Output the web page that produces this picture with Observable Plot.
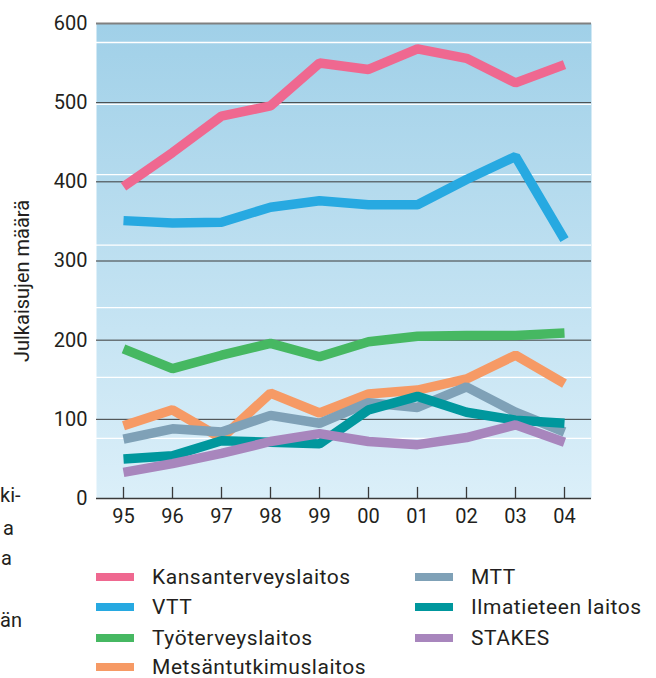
<!DOCTYPE html>
<html>
<head>
<meta charset="utf-8">
<script src="https://cdn.jsdelivr.net/npm/d3@7"></script>
<script src="https://cdn.jsdelivr.net/npm/@observablehq/plot@0.6"></script>
<style>
  html, body { margin: 0; padding: 0; background: #fff; }
  body { width: 656px; height: 678px; overflow: hidden; position: relative; font-family: Roboto, "Open Sans", sans-serif; color: #231f20; }
  #chart { position: absolute; left: 0; top: 0; }
  .ytitle { position: absolute; left: 22px; top: 281px; transform: translate(-50%, -50%) rotate(-90deg); font-size: 20px; white-space: nowrap; }
  .frag { position: absolute; font-size: 20px; line-height: 1; white-space: nowrap; }
  .leg { position: absolute; font-size: 21px; line-height: 1; white-space: nowrap; letter-spacing: 0.55px; }
  .leg .sw { position: absolute; width: 38px; height: 8px; left: 0; top: -4px; }
  .leg .lb { position: absolute; left: 56px; top: 0; transform: translateY(-50%); }
</style>
</head>
<body>
<div id="chart"></div>
<div class="ytitle">Julkaisujen määrä</div>
<div id="legend"></div>
<div id="frags"></div>
<script>
// ---- data ----
const years = ["95","96","97","98","99","00","01","02","03","04"];
const seriesNames = ["Kansanterveyslaitos","VTT","Työterveyslaitos","Metsäntutkimuslaitos","MTT","Ilmatieteen laitos","STAKES"];
const seriesColors = ["#ef6890","#27a9e1","#46b862","#f69a65","#7fa1b7","#00979d","#a886bd"];
const kansanterveyslaitos = [394,437,483,496,550,542,568,556,525,548];
const vtt = [351,348,349,368,376,371,371,403,432,327];
const tyoterveyslaitos = [189,164,181,196,179,198,205,206,206,209];
const metsantutkimuslaitos = [92,112,76,133,108,132,137,151,181,145];
const mtt = [75,88,84,105,95,121,115,141,109,84];
const ilmatieteenLaitos = [50,54,73,71,69,112,129,109,99,95];
const stakes = [33,44,57,72,82,72,68,77,93,71];
const yTicks = [0,100,200,300,400,500,600];
const bandEdges = [576,498,409,320,241,153,76];
const sideFragments = ["ki-","a","a","än"];

const allSeries = [kansanterveyslaitos, vtt, tyoterveyslaitos, metsantutkimuslaitos, mtt, ilmatieteenLaitos, stakes];
const rows = [];
seriesNames.forEach((name, i) => {
  years.forEach((yr, j) => rows.push({series: name, year: yr, value: allSeries[i][j]}));
});

const font = "Roboto, 'Open Sans', sans-serif";
const chart = Plot.plot({
  width: 656,
  height: 545,
  marginLeft: 96,
  marginRight: 65,
  marginTop: 23,
  marginBottom: 47,
  style: {fontFamily: font, color: "#231f20", background: "transparent"},
  x: {type: "point", domain: years, padding: 0.5, axis: null},
  y: {domain: [0, 600], axis: null},
  color: {domain: seriesNames, range: seriesColors},
  marks: [
    Plot.frame({fill: "url(#bgGrad)", stroke: "none"}),
    Plot.ruleY(bandEdges, {stroke: "white", strokeWidth: 1.3}),
    Plot.ruleY(yTicks.filter(d => d > 0 && d < 600), {stroke: "#3a3a3a", strokeWidth: 1}),
    Plot.ruleY([600], {stroke: "#808080", strokeWidth: 2}),
    Plot.ruleX(years, {x: d => d, y1: 0, y2: 14, stroke: "#3a3a3a", strokeWidth: 1.3}),
    Plot.line(rows, {x: "year", y: "value", z: "series", stroke: "series", strokeWidth: 9.5, strokeLinejoin: "miter", strokeLinecap: "butt"}),
    Plot.ruleY([0], {stroke: "#3a3a3a", strokeWidth: 1.6}),
    Plot.axisY(yTicks, {tickSize: 0, tickPadding: 9, fontSize: 20, label: null}),
    Plot.axisX(years, {tickSize: 0, tickPadding: 10, fontSize: 20, label: null})
  ]
});

const svg = d3.select(chart);
const defs = svg.insert("defs", ":first-child");
const grad = defs.append("linearGradient").attr("id", "bgGrad").attr("x1", 0).attr("y1", 0).attr("x2", 0).attr("y2", 1);
grad.append("stop").attr("offset", "0%").attr("stop-color", "#a0d0e8");
grad.append("stop").attr("offset", "100%").attr("stop-color", "#dbeff9");
svg.selectAll("[aria-label=frame]").attr("fill", "url(#bgGrad)");
document.getElementById("chart").appendChild(chart);

// legend
const legend = document.getElementById("legend");
const legPos = [[96,577],[96,607],[96,638],[96,667],[415,577],[415,607],[415,638]];
seriesNames.forEach((name, i) => {
  const d = document.createElement("div");
  d.className = "leg";
  d.style.left = legPos[i][0] + "px";
  d.style.top = legPos[i][1] + "px";
  d.innerHTML = `<span class="sw" style="background:${seriesColors[i]}"></span><span class="lb">${name}</span>`;
  legend.appendChild(d);
});

// side fragments from neighbouring text column
const fragPos = [[0,495],[3,528],[1,558],[0,620]];
const frags = document.getElementById("frags");
sideFragments.forEach((t, i) => {
  const d = document.createElement("div");
  d.className = "frag";
  d.textContent = t;
  d.style.left = fragPos[i][0] + "px";
  d.style.top = (fragPos[i][1] - 10) + "px";
  frags.appendChild(d);
});
</script>
</body>
</html>
